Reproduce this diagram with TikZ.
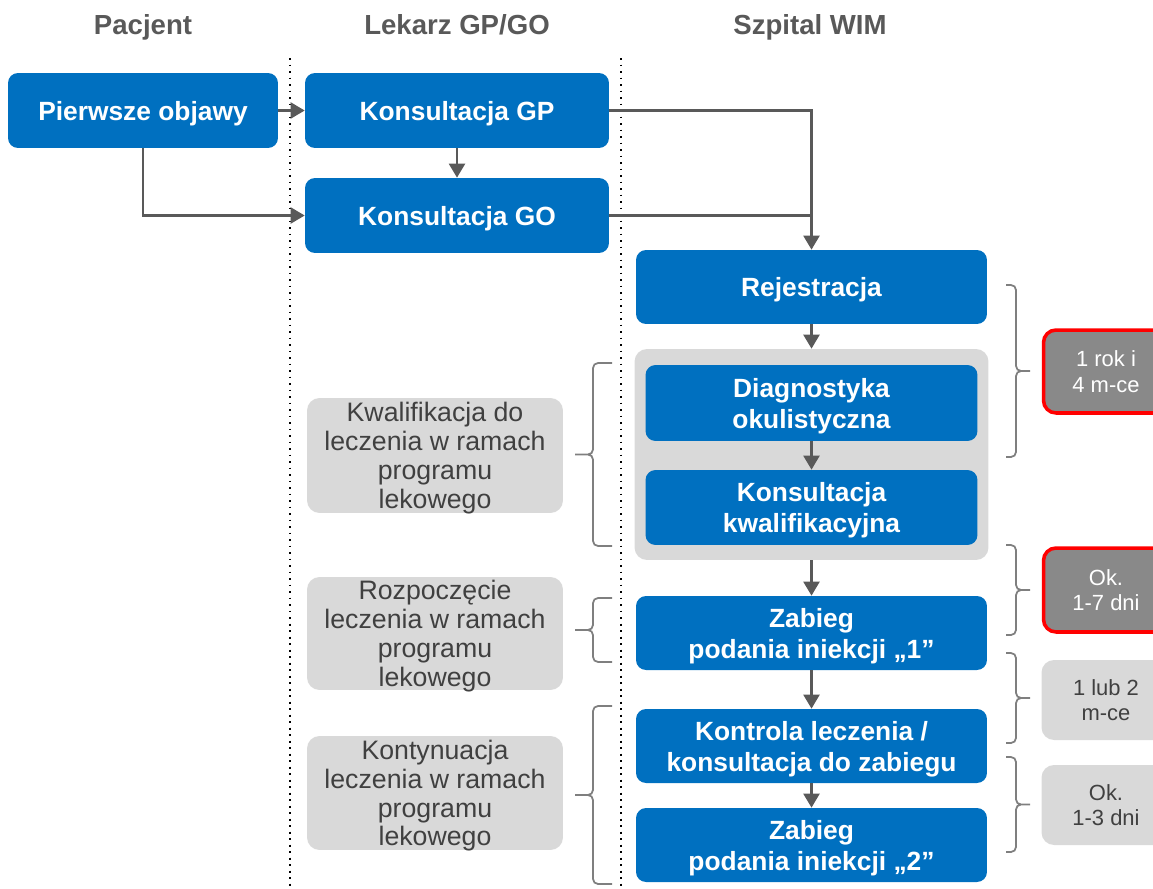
\documentclass[tikz,border=0pt]{standalone}
\usepackage{fontspec}
\setmainfont{Liberation Sans}
\usetikzlibrary{arrows.meta,positioning}
\definecolor{wimblue}{RGB}{0,112,192}
\definecolor{lgray}{RGB}{217,217,217}
\definecolor{dgray}{RGB}{137,137,137}
\definecolor{txtgray}{RGB}{64,64,64}
\definecolor{arrgray}{RGB}{89,89,89}
\definecolor{brkgray}{RGB}{127,127,127}
\tikzstyle{blue box} = [fill=wimblue,rounded corners=0.2cm,text=white,align=center,inner sep=0pt,text depth=0pt,font=\fontsize{15}{17.6}\selectfont\bfseries]
\tikzstyle{gray box} = [fill=lgray,rounded corners=0.25cm,text=txtgray,align=center,inner sep=0pt,text depth=0pt,minimum width=5.12cm,font=\fontsize{15.2}{16.4}\selectfont]
\tikzstyle{time box} = [fill=lgray,rounded corners=0.25cm,text=txtgray,align=center,inner sep=0pt,text depth=0pt,minimum width=2.58cm,minimum height=1.6cm,font=\fontsize{12.5}{14.7}\selectfont]
\tikzstyle{alert box} = [time box,fill=dgray,text=white,draw=red,line width=2pt,minimum width=2.5cm]
\tikzstyle{lanehead} = [text=arrgray,text depth=0pt,font=\fontsize{15.7}{18}\selectfont\bfseries]
\tikzstyle{arrow} = [line width=1.3pt,arrgray,-{Triangle[width=0.32cm,length=0.28cm]}]
\tikzstyle{link} = [line width=1.3pt,arrgray]
\tikzstyle{lane} = [line width=1.1pt,dash pattern=on 1.1pt off 2.6pt]
\tikzstyle{brk} = [line width=1pt,brkgray,rounded corners=0.1cm]
\newcommand{\tbrace}[5]{\draw[brk] (#3,#4) -- (#2,#4) -- (#2,{(#4+#5)/2}) -- (#1,{(#4+#5)/2}) (#3,#5) -- (#2,#5) -- (#2,{(#4+#5)/2}) -- (#1,{(#4+#5)/2});}
\begin{document}
\begin{tikzpicture}[x=0.02cm,y=-0.02cm]
  \useasboundingbox (0,0) rectangle (1153,889);
  \clip (0,0) rectangle (1153,889);
  \node[lanehead] (hpac) at (143,25) {Pacjent};
  \node[lanehead] (hlek) at (457,25) {Lekarz GP/GO};
  \node[lanehead] (hszp) at (810,25) {Szpital WIM};
  \draw[lane] (290,58) -- (290,889);
  \draw[lane] (621,58) -- (621,889);
  \node[blue box,minimum width=5.4cm,minimum height=1.5cm] (objawy) at (143,110.5) {Pierwsze objawy};
  \node[blue box,minimum width=6.08cm,minimum height=1.5cm] (gp) at (457,110.5) {Konsultacja GP};
  \node[blue box,minimum width=6.08cm,minimum height=1.5cm] (go) at (457,215.5) {Konsultacja GO};
  \node[blue box,minimum width=7.02cm,minimum height=1.48cm] (rej) at (811.5,287) {Rejestracja};
  \node[fill=lgray,rounded corners=0.25cm,minimum width=7.08cm,minimum height=4.22cm] (kwal) at (811.5,454.5) {};
  \node[blue box,minimum width=6.64cm,minimum height=1.52cm] (diag) at (811.5,403) {Diagnostyka\\okulistyczna};
  \node[blue box,minimum width=6.64cm,minimum height=1.5cm] (konkw) at (811.5,507.5) {Konsultacja\\kwalifikacyjna};
  \node[blue box,minimum width=7.02cm,minimum height=1.48cm] (inj1) at (811.5,633) {Zabieg\\podania iniekcji „1”};
  \node[blue box,minimum width=7.02cm,minimum height=1.48cm] (kontr) at (811.5,746) {Kontrola leczenia /\\konsultacja do zabiegu};
  \node[blue box,minimum width=7.02cm,minimum height=1.48cm] (inj2) at (811.5,845) {Zabieg\\podania iniekcji „2”};
  \node[gray box,minimum height=2.3cm] (etap1) at (435,455.5) {Kwalifikacja do\\leczenia w ramach\\programu\\lekowego};
  \node[gray box,minimum height=2.26cm] (etap2) at (435,633.5) {Rozpoczęcie\\leczenia w ramach\\programu\\lekowego};
  \node[gray box,minimum height=2.28cm] (etap3) at (435,793) {Kontynuacja\\leczenia w ramach\\programu\\lekowego};
  \node[alert box,minimum height=1.66cm] (czas1) at (1106,371.5) {1 rok i\\4 m-ce};
  \node[alert box,minimum height=1.68cm] (czas2) at (1106,590) {Ok.\\1-7 dni};
  \node[time box] (czas3) at (1106,700) {1 lub 2\\m-ce};
  \node[time box] (czas4) at (1106,805) {Ok.\\1-3 dni};
  \draw[arrow] (objawy.east) -- (gp.west);
  \draw[arrow] (objawy.south) |- (go.west);
  \draw[arrow] (gp) -- (go);
  \draw[arrow] (gp.east) -| (rej.north);
  \draw[link] (go.east) -- (go.east -| rej.north);
  \draw[arrow] (rej) -- (kwal);
  \draw[arrow] (diag) -- (konkw);
  \draw[arrow] (kwal) -- (inj1);
  \draw[arrow] (inj1) -- (kontr);
  \draw[arrow] (kontr) -- (inj2);
  \tbrace{575}{593}{612}{363}{546}
  \tbrace{575}{593}{612}{598}{662}
  \tbrace{575}{593}{612}{706}{884}
  \tbrace{1030}{1016}{1006}{285}{457}
  \tbrace{1030}{1016}{1006}{545}{635}
  \tbrace{1030}{1016}{1006}{653}{743}
  \tbrace{1030}{1016}{1006}{757}{852}
\end{tikzpicture}
\end{document}
